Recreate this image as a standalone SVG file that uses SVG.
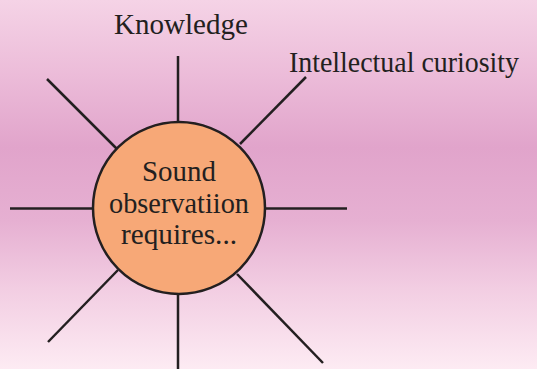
<svg xmlns="http://www.w3.org/2000/svg" width="537" height="369" viewBox="0 0 537 369">
<defs>
<linearGradient id="bg" x1="0" y1="0" x2="0" y2="1">
<stop offset="0" stop-color="#f5d3e6"/>
<stop offset="0.2" stop-color="#ecbcd9"/>
<stop offset="0.4" stop-color="#e1a4cb"/>
<stop offset="0.6" stop-color="#e6b0d2"/>
<stop offset="0.78" stop-color="#f2cde2"/>
<stop offset="1" stop-color="#fdebf3"/>
</linearGradient>
<style>
.t{font-family:"Liberation Serif","Times New Roman",serif;font-size:29.5px;fill:#231f20}
.c{stroke:#231f20;stroke-width:2.5;fill:none}
</style>
</defs>
<rect width="537" height="369" fill="url(#bg)"/>
<g id="connectors" class="c">
<line x1="178" y1="56" x2="178" y2="121"/>
<line x1="178" y1="295" x2="178" y2="369"/>
<line x1="10" y1="208.5" x2="93" y2="208.5"/>
<line x1="265" y1="208.5" x2="347" y2="208.5"/>
<line x1="47" y1="79" x2="117" y2="149"/>
<line x1="306" y1="77" x2="240" y2="144"/>
<line x1="48" y1="342" x2="118" y2="270"/>
<line x1="323" y1="363" x2="237" y2="274"/>
</g>
<g id="center">
<circle cx="179" cy="208" r="86" fill="#f7a877" stroke="#231f20" stroke-width="2.5"/>
<text class="t" x="179" y="181" text-anchor="middle" textLength="74" lengthAdjust="spacingAndGlyphs">Sound</text>
<text class="t" x="179" y="213" text-anchor="middle" textLength="140" lengthAdjust="spacingAndGlyphs">observatiion</text>
<text class="t" x="179" y="244" text-anchor="middle" textLength="116" lengthAdjust="spacingAndGlyphs">requires...</text>
</g>
<g id="knowledge">
<text class="t" x="114" y="34" textLength="134" lengthAdjust="spacingAndGlyphs">Knowledge</text>
</g>
<g id="curiosity">
<text class="t" x="289" y="72" textLength="230" lengthAdjust="spacingAndGlyphs">Intellectual curiosity</text>
</g>
</svg>
